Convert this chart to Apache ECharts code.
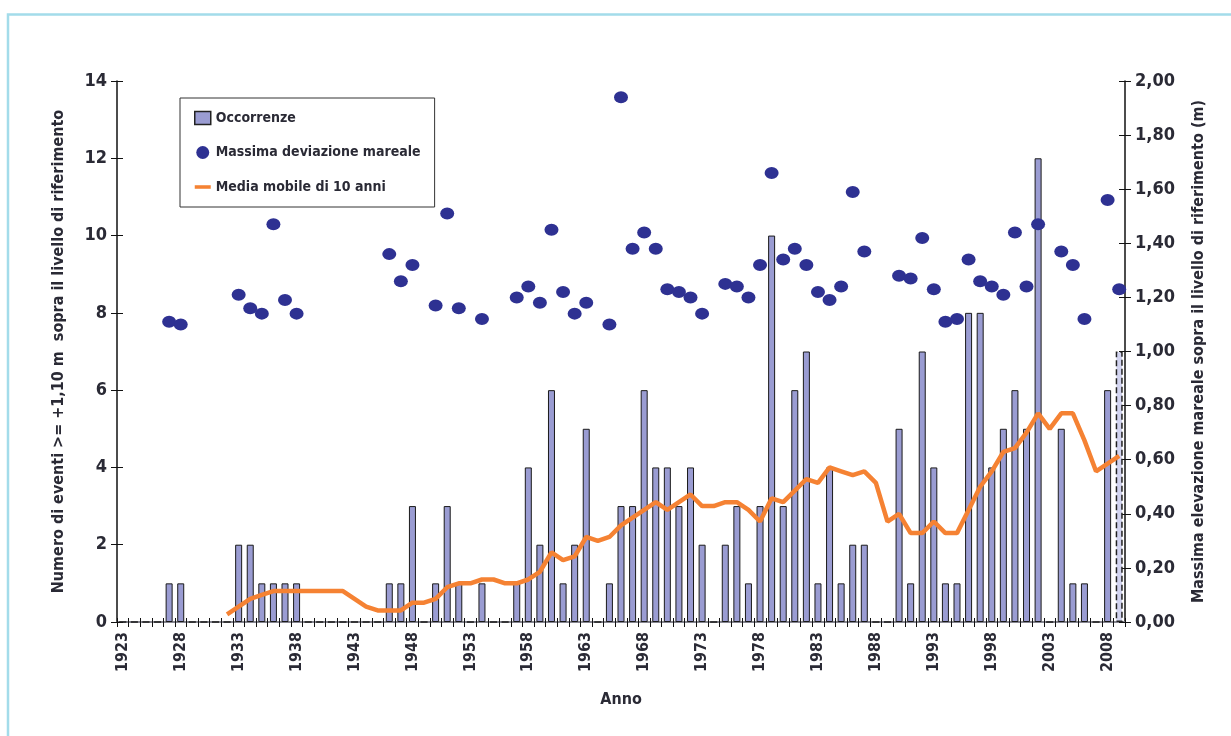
<!DOCTYPE html>
<html>
<head>
<meta charset="utf-8">
<script src="https://cdn.jsdelivr.net/npm/echarts@6/dist/echarts.min.js"></script>
<style>
html,body{margin:0;padding:0;background:#fff;}
#chart{width:1231px;height:736px;}
</style>
</head>
<body>
<div id="chart"></div>
<script>
// ---- data ----
var years = ['1923','1924','1925','1926','1927','1928','1929','1930','1931','1932',
  '1933','1934','1935','1936','1937','1938','1939','1940','1941','1942',
  '1943','1944','1945','1946','1947','1948','1949','1950','1951','1952',
  '1953','1954','1955','1956','1957','1958','1959','1960','1961','1962',
  '1963','1964','1965','1966','1967','1968','1969','1970','1971','1972',
  '1973','1974','1975','1976','1977','1978','1979','1980','1981','1982',
  '1983','1984','1985','1986','1987','1988','1989','1990','1991','1992',
  '1993','1994','1995','1996','1997','1998','1999','2000','2001','2002',
  '2003','2004','2005','2006','2007','2008','2009'];

// Occorrenze (number of events per year)
var occorrenze = [0,0,0,0,1,1,0,0,0,0,
  2,2,1,1,1,1,0,0,0,0,
  0,0,0,1,1,3,0,1,3,1,
  0,1,0,0,1,4,2,6,1,2,
  5,0,1,3,3,6,4,4,3,4,
  2,0,2,3,1,3,10,3,6,7,
  1,4,1,2,2,0,0,5,1,7,
  4,1,1,8,8,4,5,6,5,12,
  0,5,1,1,0,6,7];

// Massima deviazione mareale (m), null where no point
var deviazione = [null,null,null,null,1.11,1.10,null,null,null,null,
  1.21,1.16,1.14,1.47,1.19,1.14,null,null,null,null,
  null,null,null,1.36,1.26,1.32,null,1.17,1.51,1.16,
  null,1.12,null,null,1.20,1.24,1.18,1.45,1.22,1.14,
  1.18,null,1.10,1.94,1.38,1.44,1.38,1.23,1.22,1.20,
  1.14,null,1.25,1.24,1.20,1.32,1.66,1.34,1.38,1.32,
  1.22,1.19,1.24,1.59,1.37,null,null,1.28,1.27,1.42,
  1.23,1.11,1.12,1.34,1.26,1.24,1.21,1.44,1.24,1.47,
  null,1.37,1.32,1.12,null,1.56,1.23];

// Media mobile di 10 anni
var mediaMobile = [null,null,null,null,null,null,null,null,null,0.2,
  0.4,0.6,0.7,0.8,0.8,0.8,0.8,0.8,0.8,0.8,
  0.6,0.4,0.3,0.3,0.3,0.5,0.5,0.6,0.9,1.0,
  1.0,1.1,1.1,1.0,1.0,1.1,1.3,1.8,1.6,1.7,
  2.2,2.1,2.2,2.5,2.7,2.9,3.1,2.9,3.1,3.3,
  3.0,3.0,3.1,3.1,2.9,2.6,3.2,3.1,3.4,3.7,
  3.6,4.0,3.9,3.8,3.9,3.6,2.6,2.8,2.3,2.3,
  2.6,2.3,2.3,2.9,3.5,3.9,4.4,4.5,4.9,5.4,
  5.0,5.4,5.4,4.7,3.9,4.1,4.3];

var provisionalYear = '2009';

// ---- chart ----
var FONT = '"DejaVu Sans Condensed","Liberation Sans Narrow","Liberation Sans",sans-serif';
var TXT = '#2a2a35';
var barColor = '#9a9cd2';
var barColorLight = '#d2d4f0';
var dotColor = '#2e3192';
var lineColor = '#f58233';

var barData = occorrenze.map(function (v, i) {
  if (years[i] === provisionalYear) {
    return {value: v, itemStyle: {color: barColorLight, borderType: 'dashed', borderColor: '#222', borderWidth: 1.5}};
  }
  return v;
});

var chart = echarts.init(document.getElementById('chart'), null, {renderer: 'canvas'});
var option = {
  animation: false,
  backgroundColor: '#fff',
  graphic: [{
    type: 'polyline',
    shape: {points: [[8, 736], [8, 14.5], [1231, 14.5]]},
    style: {stroke: '#a3dcea', lineWidth: 2.5, fill: null},
    z: 0
  }],
  grid: {left: 117, right: 106, top: 81, bottom: 114, containLabel: false},
  legend: {
    orient: 'vertical',
    left: 180, top: 98,
    padding: [11, 14, 11, 14],
    itemGap: 16.5,
    itemWidth: 16, itemHeight: 13,
    backgroundColor: '#fff',
    borderColor: '#333', borderWidth: 1,
    textStyle: {fontFamily: FONT, fontSize: 14, fontWeight: 'bold', color: TXT, lineHeight: 18},
    data: [
      {name: 'Occorrenze', icon: 'rect', itemStyle: {color: barColor, borderColor: '#222', borderWidth: 1.5}},
      {name: 'Massima deviazione mareale', icon: 'circle'},
      {name: 'Media mobile di 10 anni', icon: 'path://M0,0 M0,4.5 L18,4.5 L18,8.5 L0,8.5 Z M18,13',
        itemStyle: {color: lineColor, borderWidth: 0}}
    ]
  },
  xAxis: [{
    type: 'category',
    data: years,
    boundaryGap: true,
    position: 'bottom',
    name: 'Anno',
    nameLocation: 'middle',
    nameGap: 70,
    nameTextStyle: {fontFamily: FONT, fontSize: 16, fontWeight: 'bold', color: TXT},
    axisLine: {lineStyle: {color: '#111', width: 1.5}},
    axisTick: {show: true, interval: 0, length: 5, lineStyle: {color: '#111', width: 1}},
    axisLabel: {interval: 4, rotate: 90, margin: 10, fontFamily: FONT, fontSize: 16, fontWeight: 'bold', color: TXT},
    splitLine: {show: false}
  }, {
    type: 'category',
    data: years,
    boundaryGap: true,
    position: 'bottom',
    axisLine: {show: false},
    axisTick: {show: true, inside: true, interval: 0, length: 4, lineStyle: {color: '#111', width: 1}},
    axisLabel: {show: false},
    splitLine: {show: false}
  }, {
    type: 'category',
    data: years,
    boundaryGap: true,
    position: 'top',
    axisLine: {show: true, lineStyle: {color: '#9a9aa8', width: 1.5}},
    axisTick: {show: false},
    axisLabel: {show: false},
    splitLine: {show: false}
  }],
  yAxis: [{
    type: 'value',
    position: 'left',
    min: 0, max: 14, interval: 2,
    name: 'Numero di eventi >= +1,10 m  sopra il livello di riferimento',
    nameLocation: 'middle',
    nameRotate: 90,
    nameGap: 50,
    nameTextStyle: {fontFamily: FONT, fontSize: 16, color: TXT, fontWeight: 'bold'},
    axisLine: {show: true, lineStyle: {color: '#111', width: 1.5}},
    axisTick: {show: true, length: 6, lineStyle: {color: '#111', width: 1}},
    axisLabel: {margin: 10, fontFamily: FONT, fontSize: 18, fontWeight: 'bold', color: TXT},
    splitLine: {show: false}
  }, {
    type: 'value',
    position: 'right',
    min: 0, max: 2, interval: 0.2,
    name: 'Massima elevazione mareale sopra il livello di riferimento (m)',
    nameLocation: 'middle',
    nameRotate: 90,
    nameGap: 66,
    nameTextStyle: {fontFamily: FONT, fontSize: 16, color: TXT, fontWeight: 'bold'},
    axisLine: {show: true, lineStyle: {color: '#111', width: 1.5}},
    axisTick: {show: true, length: 6, lineStyle: {color: '#111', width: 1}},
    axisLabel: {margin: 10, fontFamily: FONT, fontSize: 18, fontWeight: 'bold', color: TXT,
      formatter: function (v) { return v.toFixed(2).replace('.', ','); }},
    splitLine: {show: false}
  }, {
    type: 'value',
    position: 'left',
    min: 0, max: 14, interval: 2,
    axisLine: {show: false},
    axisTick: {show: true, inside: true, length: 6, lineStyle: {color: '#111', width: 1}},
    axisLabel: {show: false},
    splitLine: {show: false}
  }, {
    type: 'value',
    position: 'right',
    min: 0, max: 2, interval: 0.2,
    axisLine: {show: false},
    axisTick: {show: true, inside: true, length: 6, lineStyle: {color: '#111', width: 1}},
    axisLabel: {show: false},
    splitLine: {show: false}
  }],
  series: [{
    name: 'Occorrenze',
    type: 'bar',
    xAxisIndex: 0, yAxisIndex: 0,
    barWidth: 7,
    itemStyle: {color: barColor, borderColor: '#1a1a1a', borderWidth: 1},
    data: barData,
    z: 2
  }, {
    name: 'Media mobile di 10 anni',
    type: 'line',
    xAxisIndex: 0, yAxisIndex: 0,
    symbol: 'none',
    smooth: false,
    connectNulls: false,
    lineStyle: {color: lineColor, width: 4.5},
    itemStyle: {color: lineColor},
    data: mediaMobile,
    z: 3
  }, {
    name: 'Massima deviazione mareale',
    type: 'scatter',
    xAxisIndex: 0, yAxisIndex: 1,
    symbol: 'circle',
    symbolSize: [14, 12],
    itemStyle: {color: dotColor, opacity: 1},
    data: deviazione,
    z: 4
  }]
};
chart.setOption(option);
</script>
</body>
</html>
